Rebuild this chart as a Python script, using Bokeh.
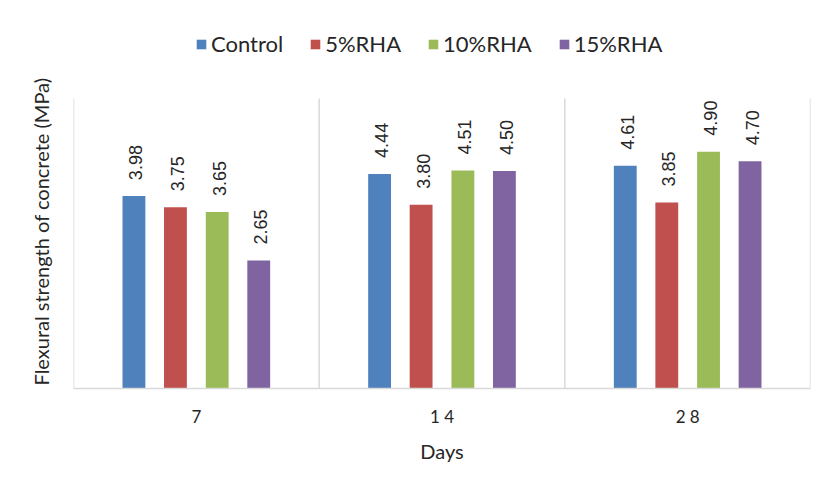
import math
from bokeh.plotting import figure
from bokeh.models import (ColumnDataSource, FactorRange, Range1d, LabelSet, Legend,
                          LegendItem, FixedTicker, Title)
from bokeh.transform import dodge
from bokeh.core.properties import value
from bokeh.embed import file_html
from bokeh.resources import INLINE

days = ["7", "1 4", "2 8"]          # category tick labels as printed
series = ["Control", "5%RHA", "10%RHA", "15%RHA"]
control = [3.98, 4.44, 4.61]
rha5 = [3.75, 3.80, 3.85]
rha10 = [3.65, 4.51, 4.90]
rha15 = [2.65, 4.50, 4.70]
colors = ["#4F81BD", "#C0504D", "#9BBB59", "#8064A2"]
axis_max = 6
y_title = "Flexural strength of concrete (MPa)"
x_title = "Days"

values = [control, rha5, rha10, rha15]
offsets = [-0.254, -0.085, 0.085, 0.254]

# frame reaches up to the legend area; the value axis itself ends at axis_max
p = figure(width=834, height=496, x_range=FactorRange(*days, range_padding=0),
           y_range=Range1d(0, 7.82), output_backend="svg", toolbar_location=None,
           min_border_left=73, min_border_right=24, min_border_top=10,
           min_border_bottom=108)
p.outline_line_color = None
p.background_fill_color = "white"
p.border_fill_color = "white"
p.xgrid.grid_line_color = None
p.ygrid.grid_line_color = None

# category separators / plot-area edges
sep = ColumnDataSource(dict(day=days, y0=[0] * len(days), y1=[axis_max] * len(days)))
p.segment(x0=dodge("day", 0.5, range=p.x_range), x1=dodge("day", 0.5, range=p.x_range),
          y0="y0", y1="y1", source=sep, line_color="#d9d9d9", line_width=1.5)
edge = ColumnDataSource(dict(day=days[:1], y0=[0], y1=[axis_max]))
p.segment(x0=dodge("day", -0.5, range=p.x_range), x1=dodge("day", -0.5, range=p.x_range),
          y0="y0", y1="y1", source=edge, line_color="#d9d9d9", line_width=1.5)

items = []
for name, vals, off, col in zip(series, values, offsets, colors):
    src = ColumnDataSource(dict(day=days, val=vals, txt=["%.2f" % v for v in vals]))
    r = p.vbar(x=dodge("day", off, range=p.x_range), top="val", width=0.093,
               source=src, fill_color=col, line_color=None)
    items.append(LegendItem(label=name, renderers=[r]))
    lbl = LabelSet(x=dodge("day", off, range=p.x_range), y="val", text="txt",
                   source=src, angle=math.pi / 2, text_align="left",
                   text_baseline="middle", x_offset=2, y_offset=16,
                   text_font=value("Liberation Sans"), text_font_size="18px",
                   text_color="#262626")
    p.add_layout(lbl)

legend = Legend(items=items, orientation="horizontal", location=(122, 331),
                glyph_width=12, glyph_height=12, label_standoff=4, spacing=26,
                label_text_font="Lato", label_text_font_size="22px",
                label_text_color="#262626", border_line_color=None,
                background_fill_alpha=0, margin=0, padding=6)
p.add_layout(legend)

p.xaxis.axis_line_color = "#d9d9d9"
p.xaxis.axis_line_width = 1.5
p.xaxis.major_tick_line_color = None
p.xaxis.minor_tick_line_color = None
p.xaxis.major_label_standoff = 11
p.xaxis.major_label_text_font = "Lato"
p.xaxis.major_label_text_font_size = "17px"
p.xaxis.major_label_text_color = "#262626"
p.xaxis.axis_label = x_title
p.xaxis.axis_label_text_font = "Lato"
p.xaxis.axis_label_text_font_size = "20px"
p.xaxis.axis_label_text_font_style = "normal"
p.xaxis.axis_label_text_color = "#262626"
p.xaxis.axis_label_standoff = 9

p.yaxis.ticker = FixedTicker(ticks=[])
p.yaxis.axis_line_color = None
p.yaxis.major_tick_line_color = None
p.yaxis.minor_tick_line_color = None

ttl = Title(text=y_title, align="left", offset=3, standoff=42,
            text_font="Lato", text_font_size="20px", text_font_style="normal",
            text_color="#262626")
p.add_layout(ttl, "left")

open("out.html", "w").write(file_html(p, INLINE))
